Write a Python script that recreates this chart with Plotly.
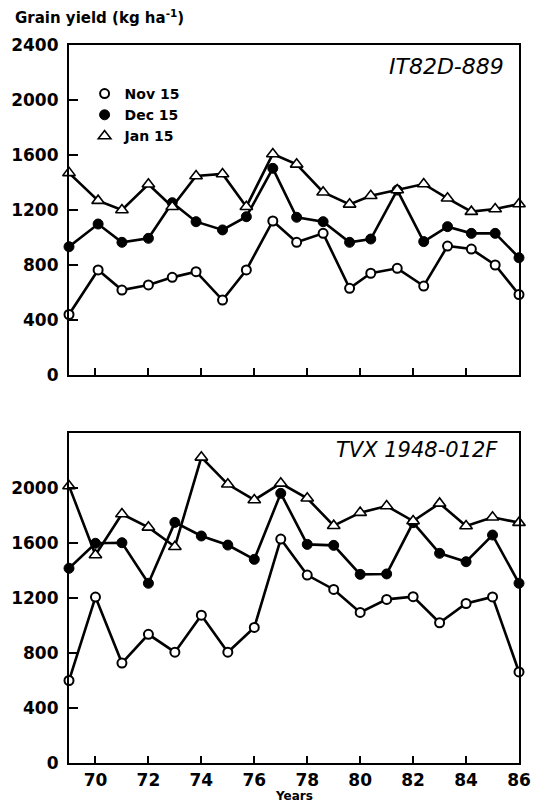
import plotly.graph_objects as go

# ---- data ----
years_top = [69.0, 70.1, 71.0, 72.0, 72.9, 73.8, 74.8, 75.7, 76.7, 77.6,
             78.6, 79.6, 80.4, 81.4, 82.4, 83.3, 84.2, 85.1, 86.0]
top_nov = [440, 764, 618, 655, 710, 751, 545, 764, 1120, 965,
           1030, 630, 740, 776, 647, 938, 916, 800, 585]
top_dec = [933, 1098, 965, 994, 1253, 1115, 1055, 1151, 1503, 1147,
           1115, 965, 989, 1345, 970, 1079, 1030, 1030, 853]
top_jan = [1470, 1268, 1200, 1387, 1224, 1447, 1462, 1224, 1607, 1532,
           1329, 1241, 1304, 1345, 1389, 1285, 1188, 1207, 1244]

years_bot = [69, 70, 71, 72, 73, 74, 75, 76, 77, 78, 79, 80, 81, 82, 83, 84, 85, 86]
bot_nov = [600, 1207, 727, 936, 806, 1075, 806, 986, 1629, 1367,
           1262, 1095, 1190, 1210, 1020, 1160, 1208, 662]
bot_dec = [1416, 1598, 1602, 1307, 1750, 1651, 1585, 1481, 1961, 1590,
           1583, 1372, 1375, 1748, 1525, 1464, 1658, 1307]
bot_jan = [2015, 1513, 1811, 1714, 1573, 2223, 2027, 1913, 2034, 1925,
           1726, 1821, 1869, 1760, 1888, 1724, 1787, 1748]

series_names = ["Nov 15", "Dec 15", "Jan 15"]
panel_labels = ["IT82D-889", "TVX 1948-012F"]
y_ticks_top = [0, 400, 800, 1200, 1600, 2000, 2400]
y_ticks_bot = [0, 400, 800, 1200, 1600, 2000]
x_ticks = [70, 72, 74, 76, 78, 80, 82, 84, 86]

# ---- styles ----
FONT = "DejaVu Sans"
styles = {
    "Nov 15": dict(symbol="circle", size=9, color="white", line=dict(color="black", width=2)),
    "Dec 15": dict(symbol="circle", size=10, color="black", line=dict(color="black", width=1)),
    "Jan 15": dict(symbol="triangle-up", size=11, color="white", line=dict(color="black", width=1.6)),
}

fig = go.Figure()

def add_series(x, y, name, xa, ya):
    fig.add_trace(go.Scatter(
        x=x, y=y, mode="lines+markers", name=name, showlegend=False,
        line=dict(color="black", width=2.6), marker=styles[name],
        cliponaxis=False, xaxis=xa, yaxis=ya))

for name, vals in zip(series_names, [top_nov, top_dec, top_jan]):
    add_series(years_top, vals, name, "x", "y")
for name, vals in zip(series_names, [bot_nov, bot_dec, bot_jan]):
    add_series(years_bot, vals, name, "x2", "y2")

# legend-only entries (marker only)
for name in series_names:
    fig.add_trace(go.Scatter(x=[None], y=[None], mode="markers", name=name,
                             marker=styles[name], xaxis="x", yaxis="y"))

axis_common = dict(showline=True, linecolor="black", linewidth=2.2, mirror=True,
                   showgrid=False, zeroline=False, ticks="inside",
                   tickcolor="black", tickwidth=2,
                   tickfont=dict(family=FONT, size=17, color="black", weight="bold"))

fig.update_layout(
    width=542, height=802,
    margin=dict(l=69, r=11, t=45, b=39),
    paper_bgcolor="white", plot_bgcolor="white",
    xaxis=dict(domain=[0, 1], range=[69, 86], tickvals=x_ticks, showticklabels=False,
               ticklen=7, anchor="y", **axis_common),
    yaxis=dict(domain=[0.5404, 1], range=[0, 2400], tickvals=y_ticks_top,
               ticklen=9, anchor="x", ticklabelstandoff=5, **axis_common),
    xaxis2=dict(domain=[0, 1], range=[69, 86], tickvals=x_ticks,
                ticktext=[str(v) for v in x_ticks],
                ticklen=7, anchor="y2", ticklabelstandoff=0, **axis_common),
    yaxis2=dict(domain=[0, 0.4596], range=[0, 2400], tickvals=y_ticks_bot,
                ticklen=9, anchor="x2", ticklabelstandoff=5, **axis_common),
    legend=dict(x=(85 - 69) / 462, y=(763 - 78) / 718, xanchor="left", yanchor="top",
                bgcolor="rgba(0,0,0,0)", borderwidth=0,
                font=dict(family=FONT, size=14, color="black", weight="bold"),
                itemsizing="trace"),
    showlegend=True,
)

fig.add_annotation(text="Grain yield (kg ha<sup>-1</sup>)", xref="paper", yref="paper",
                   x=(11 - 69) / 462, y=(763 - 17) / 718, xanchor="left", yanchor="middle",
                   showarrow=False,
                   font=dict(family=FONT, size=15, color="black", weight="bold"))
fig.add_annotation(text=panel_labels[0], xref="paper", yref="paper",
                   x=(518 - 69) / 462, y=(763 - 66) / 718, xanchor="right", yanchor="middle",
                   showarrow=False,
                   font=dict(family=FONT, size=22, color="black", style="italic"))
fig.add_annotation(text=panel_labels[1], xref="paper", yref="paper",
                   x=(512 - 69) / 462, y=(763 - 450) / 718, xanchor="right", yanchor="middle",
                   showarrow=False,
                   font=dict(family=FONT, size=21, color="black", style="italic"))
fig.add_annotation(text="Years", xref="paper", yref="paper",
                   x=(300 - 69) / 462, y=(763 - 796) / 718, xanchor="center", yanchor="middle",
                   showarrow=False,
                   font=dict(family=FONT, size=12, color="black", weight="bold"))

fig.write_html("out.html")
